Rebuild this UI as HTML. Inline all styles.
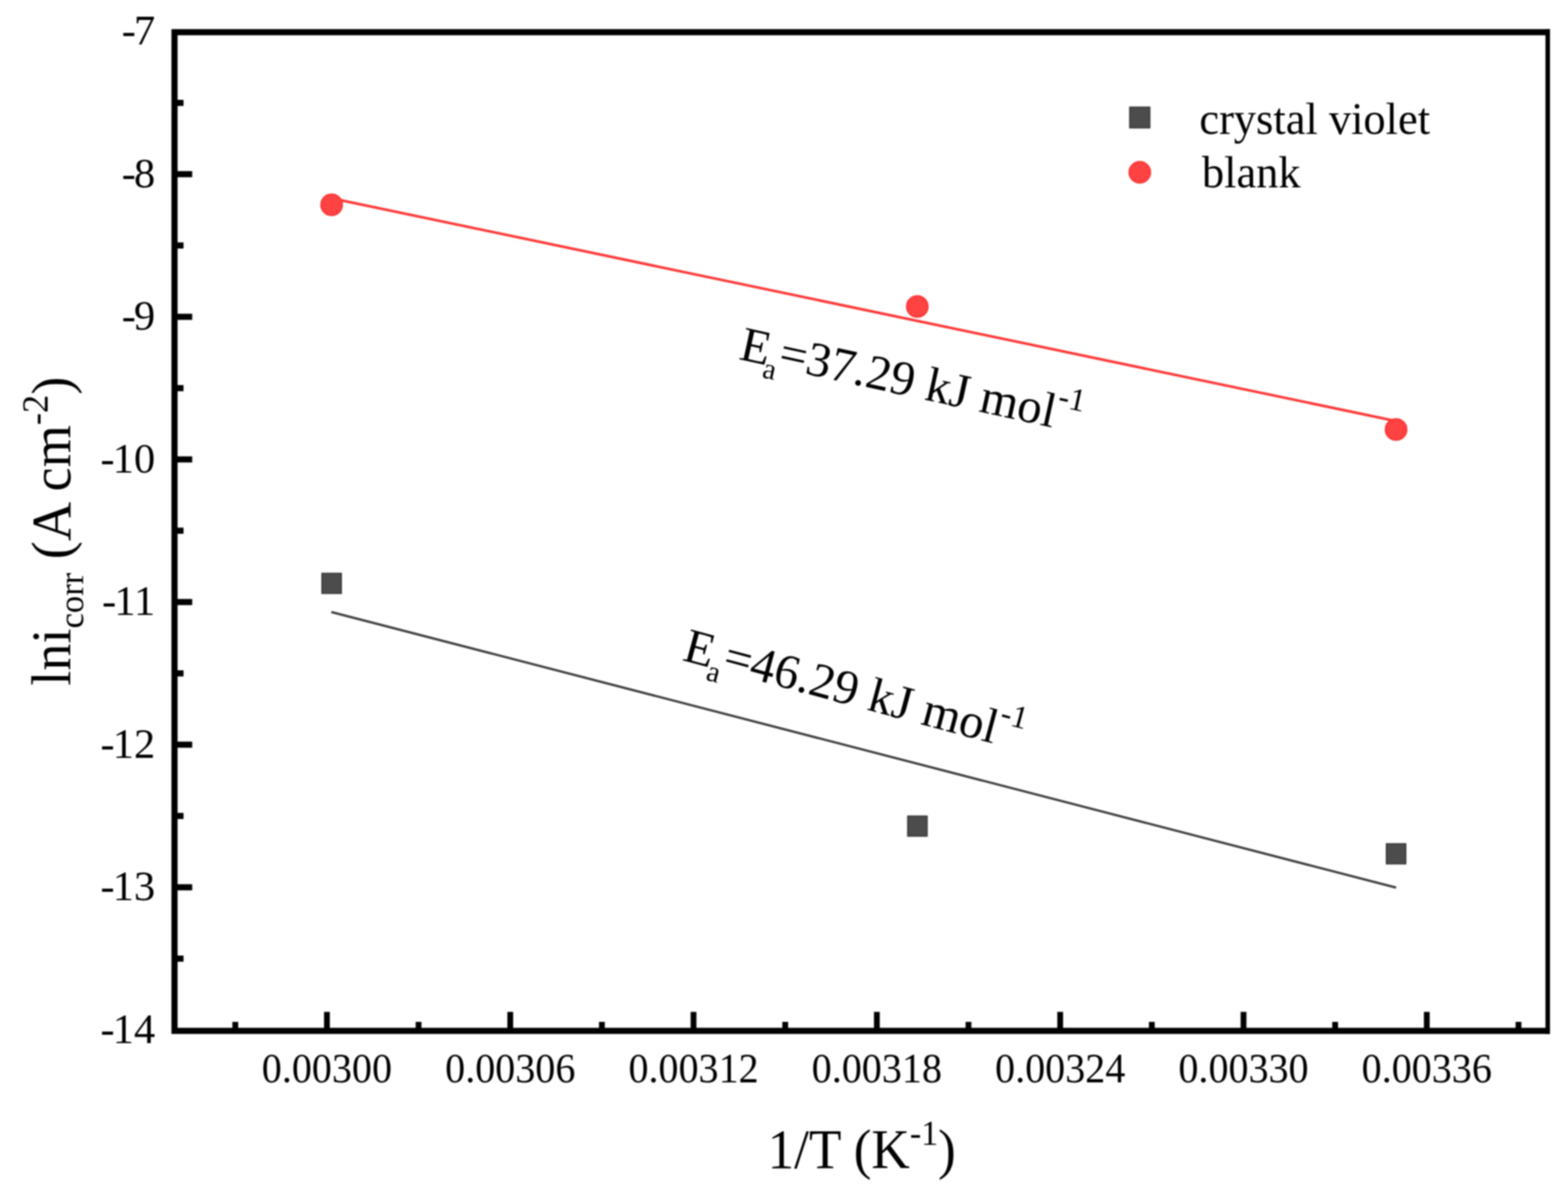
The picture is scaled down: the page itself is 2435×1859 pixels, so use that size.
<!DOCTYPE html>
<html><head><meta charset="utf-8"><title>lni_corr vs 1/T</title>
<style>
html,body{margin:0;padding:0;background:#fff;}
body{width:2435px;height:1859px;overflow:hidden;}
svg{display:block;filter:blur(1px);}
text{font-family:"Liberation Serif","Times New Roman",serif;fill:#000;}
</style></head><body>
<svg width="2435" height="1859" viewBox="0 0 2435 1859">
<rect width="2435" height="1859" fill="#fff"/>
<path d="M266.25,50H2407M271,50V1601M266.25,1601H2407" fill="none" stroke="#000" stroke-width="9.5"/>
<line x1="2403.5" y1="45.25" x2="2403.5" y2="1605.75" stroke="#000" stroke-width="7"/>
<line x1="271" y1="270.5" x2="298.5" y2="270.5" stroke="#000" stroke-width="9.5"/>
<line x1="271" y1="492.0" x2="298.5" y2="492.0" stroke="#000" stroke-width="9.5"/>
<line x1="271" y1="713.5" x2="298.5" y2="713.5" stroke="#000" stroke-width="9.5"/>
<line x1="271" y1="935.0" x2="298.5" y2="935.0" stroke="#000" stroke-width="9.5"/>
<line x1="271" y1="1156.5" x2="298.5" y2="1156.5" stroke="#000" stroke-width="9.5"/>
<line x1="271" y1="1378.0" x2="298.5" y2="1378.0" stroke="#000" stroke-width="9.5"/>
<line x1="271" y1="159.8" x2="285" y2="159.8" stroke="#000" stroke-width="9.5"/>
<line x1="271" y1="381.2" x2="285" y2="381.2" stroke="#000" stroke-width="9.5"/>
<line x1="271" y1="602.8" x2="285" y2="602.8" stroke="#000" stroke-width="9.5"/>
<line x1="271" y1="824.2" x2="285" y2="824.2" stroke="#000" stroke-width="9.5"/>
<line x1="271" y1="1045.8" x2="285" y2="1045.8" stroke="#000" stroke-width="9.5"/>
<line x1="271" y1="1267.2" x2="285" y2="1267.2" stroke="#000" stroke-width="9.5"/>
<line x1="271" y1="1488.8" x2="285" y2="1488.8" stroke="#000" stroke-width="9.5"/>
<line x1="507.7" y1="1601" x2="507.7" y2="1571.5" stroke="#000" stroke-width="9"/>
<line x1="792.4" y1="1601" x2="792.4" y2="1571.5" stroke="#000" stroke-width="9"/>
<line x1="1077.0" y1="1601" x2="1077.0" y2="1571.5" stroke="#000" stroke-width="9"/>
<line x1="1361.7" y1="1601" x2="1361.7" y2="1571.5" stroke="#000" stroke-width="9"/>
<line x1="1646.4" y1="1601" x2="1646.4" y2="1571.5" stroke="#000" stroke-width="9"/>
<line x1="1931.1" y1="1601" x2="1931.1" y2="1571.5" stroke="#000" stroke-width="9"/>
<line x1="2215.7" y1="1601" x2="2215.7" y2="1571.5" stroke="#000" stroke-width="9"/>
<line x1="365.4" y1="1601" x2="365.4" y2="1587" stroke="#000" stroke-width="9"/>
<line x1="650.0" y1="1601" x2="650.0" y2="1587" stroke="#000" stroke-width="9"/>
<line x1="934.7" y1="1601" x2="934.7" y2="1587" stroke="#000" stroke-width="9"/>
<line x1="1219.4" y1="1601" x2="1219.4" y2="1587" stroke="#000" stroke-width="9"/>
<line x1="1504.0" y1="1601" x2="1504.0" y2="1587" stroke="#000" stroke-width="9"/>
<line x1="1788.7" y1="1601" x2="1788.7" y2="1587" stroke="#000" stroke-width="9"/>
<line x1="2073.4" y1="1601" x2="2073.4" y2="1587" stroke="#000" stroke-width="9"/>
<line x1="2358.1" y1="1601" x2="2358.1" y2="1587" stroke="#000" stroke-width="9"/>
<g font-size="66">
<text x="241" y="69.0" text-anchor="end">-<tspan dx="-3">7</tspan></text>
<text x="241" y="290.5" text-anchor="end">-<tspan dx="-3">8</tspan></text>
<text x="241" y="512.0" text-anchor="end">-<tspan dx="-3">9</tspan></text>
<text x="241" y="733.5" text-anchor="end">-<tspan dx="-3">10</tspan></text>
<text x="241" y="955.0" text-anchor="end">-<tspan dx="-3">11</tspan></text>
<text x="241" y="1176.5" text-anchor="end">-<tspan dx="-3">12</tspan></text>
<text x="241" y="1398.0" text-anchor="end">-<tspan dx="-3">13</tspan></text>
<text x="241" y="1619.5" text-anchor="end">-<tspan dx="-3">14</tspan></text>
</g>
<g font-size="65.5">
<text transform="translate(507.7,1680.5) scale(0.95,1)" text-anchor="middle">0.00300</text>
<text transform="translate(792.4,1680.5) scale(0.95,1)" text-anchor="middle">0.00306</text>
<text transform="translate(1077.0,1680.5) scale(0.95,1)" text-anchor="middle">0.00312</text>
<text transform="translate(1361.7,1680.5) scale(0.95,1)" text-anchor="middle">0.00318</text>
<text transform="translate(1646.4,1680.5) scale(0.95,1)" text-anchor="middle">0.00324</text>
<text transform="translate(1931.1,1680.5) scale(0.95,1)" text-anchor="middle">0.00330</text>
<text transform="translate(2215.7,1680.5) scale(0.95,1)" text-anchor="middle">0.00336</text>
</g>
<line x1="515" y1="308" x2="2168" y2="654" stroke="#ff3535" stroke-width="4"/>
<line x1="514.5" y1="950.5" x2="2168" y2="1378.5" stroke="#3c3c3c" stroke-width="3.5"/>
<circle cx="515" cy="318" r="16.8" fill="#ff4242" stroke="#ff2a2a" stroke-width="1.6"/>
<circle cx="1424.5" cy="476" r="16.8" fill="#ff4242" stroke="#ff2a2a" stroke-width="1.6"/>
<circle cx="2168" cy="667" r="16.8" fill="#ff4242" stroke="#ff2a2a" stroke-width="1.6"/>
<rect x="500" y="890.5" width="30" height="31" fill="#4c4c4c" stroke="#393939" stroke-width="2"/>
<rect x="1409.7" y="1267.5" width="30" height="31" fill="#4c4c4c" stroke="#393939" stroke-width="2"/>
<rect x="2153" y="1310.5" width="30" height="31" fill="#4c4c4c" stroke="#393939" stroke-width="2"/>
<rect x="1754.5" y="166.5" width="31" height="32" fill="#4c4c4c" stroke="#393939" stroke-width="2"/>
<circle cx="1770" cy="267.6" r="16.8" fill="#ff4242" stroke="#ff2a2a" stroke-width="1.6"/>
<g font-size="69">
<text x="1862.5" y="207.6">crystal violet</text>
<text x="1866.5" y="291.4">blank</text>
</g>
<text transform="translate(1192,1814.3) scale(0.96,1)" font-size="86">1/T (K<tspan font-size="55" dy="-36">-1</tspan><tspan dy="36">)</tspan></text>
<text transform="translate(108.7,1065) rotate(-90) scale(0.979,1)" font-size="86">lni<tspan font-size="55" dy="20">corr</tspan><tspan dy="-20"> (A cm</tspan><tspan font-size="58" dy="-35">-2</tspan><tspan dy="35">)</tspan></text>
<text transform="translate(1146,557.5) rotate(12.3)" font-size="76"><tspan>E</tspan><tspan font-size="46" dx="-5" dy="20">a</tspan><tspan dy="-20">=37.29 </tspan><tspan>kJ mol</tspan><tspan font-size="50" dy="-34">-1</tspan></text>
<text transform="translate(1058,1025) rotate(15)" font-size="76"><tspan>E</tspan><tspan font-size="46" dx="-3" dy="20">a</tspan><tspan dy="-20">=46.29 </tspan><tspan>kJ mol</tspan><tspan font-size="50" dy="-34">-1</tspan></text>
</svg>
</body></html>
